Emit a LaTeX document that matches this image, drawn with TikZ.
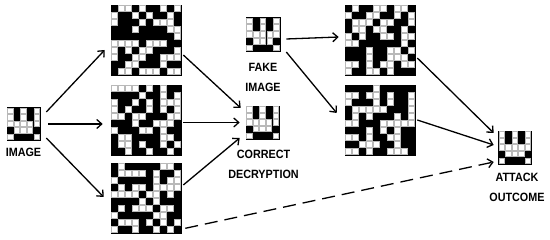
\documentclass[tikz,border=0pt]{standalone}
\usepackage{fontspec}
\setmainfont{Liberation Sans}
\newfontfamily\lblfont[FakeStretch=0.9]{Liberation Sans}
\usetikzlibrary{arrows.meta,positioning}

% white cells of a pixel grid, row by row
\newcommand{\pixcells}[3]{%
  \foreach \row [count=\ri] in {#3}
    \foreach \c in \row
      \draw[cell] ([shift={({(\c-1)*#2+0.6},{-(\ri-1)*#2-0.6})}]#1.north west)
        rectangle ++({#2-1.2},{-(#2-1.2)});
}

\begin{document}
\begin{tikzpicture}[
  x=1pt, y=1pt,
  pixgrid/.style={draw, fill=black, inner sep=0pt, minimum size=#1, line width=0.6pt},
  cell/.style={fill=white, draw=gray!55, line width=0.35pt},
  lbl/.style={font=\lblfont\bfseries\fontsize{12}{20}\selectfont, align=center, inner sep=0pt},
  arr/.style={-{Straight Barb[length=5pt,width=9pt]}, line width=1.3pt},
  dasharr/.style={arr, dash pattern=on 13pt off 7pt}
]
\useasboundingbox (0,0) rectangle (550,240);

% grids
\node[pixgrid=33pt] (img)  at (23.5,116) {};
\node[pixgrid=70pt] (g1)   at (146,200) {};
\node[pixgrid=70pt] (g2)   at (146,120) {};
\node[pixgrid=70pt] (g3)   at (146,42) {};
\node[pixgrid=34pt] (fake) at (263,205.5) {};
\node[pixgrid=33pt] (corr) at (262.5,117.5) {};
\node[pixgrid=70pt] (g4)   at (380,200) {};
\node[pixgrid=70pt] (g5)   at (380,120) {};
\node[pixgrid=33pt] (atk)  at (515,92.5) {};

\pixcells{img}{6.6}{{1,3,5},{1,3,5},{1,2,3,4,5},{2,3,4},{1,5}}
\pixcells{fake}{6.8}{{1,3,5},{1,3,5},{1,2,3,4,5},{2,3,4},{1,5}}
\pixcells{corr}{6.6}{{1,3,5},{1,3,5},{1,2,3,4,5},{2,3,4},{1,5}}
\pixcells{atk}{6.6}{{1,3,5},{1,3,5},{1,2,3,4,5},{2,3,4},{1,5}}

\pixcells{g1}{7}{{2,3,5,8,10},{1,4,6,9},{1,5,7,8,9},{4,9,10},{10},
  {1,2,3,4,6,7,8},{1,3,5,6,10},{1,4,5,8,9,10},{3,4,8},{2,3,5,6,7,9,10}}
\pixcells{g2}{7}{{1,2,3,4,6,8},{5,8,10},{1,4,6,8,9,10},{1,3,6,8,10},{1,2,4,5,9,10},
  {4,7,8,9},{1,5,6,8},{2,3,8,9},{2,3,5,8,10},{3,6,9}}
\pixcells{g3}{7}{{2,8,9},{2,3,4,5,7,10},{1,7,9,10},{2,4,5,7,8,9,10},{1,2,3,4,6,7,9},
  {5,7},{2,4,5,6,8,9},{1,7,8},{2,3,4,6,8,10},{1,4,7,9}}
\pixcells{g4}{7}{{2,5,6,8,9},{1,4,5,8,10},{2,3,4,6,7,10},{2,3,5,6,9},{1,3,6,7,9,10},
  {1,2,9},{4,7,8,10},{4,7,8,9},{1,2,4,6,7,9,10},{1,4,5,7}}
\pixcells{g5}{7}{{5},{1,2,4,5,7,10},{1,5,7,10},{2,3,4,5,6,10},{2,4,8,10},
  {1,2,6,7,8,9,10},{4,6,8},{1,2,4,7,8},{3,4,5,8},{1,2,4,7,8,9}}

% labels
\node[lbl, below=7.5pt of img]  {IMAGE};
\node[lbl, below=11pt of fake] {FAKE\\IMAGE};
\node[lbl, below=11pt of corr, xshift=1pt] {CORRECT\\DECRYPTION};
\node[lbl, below=8.5pt of atk, xshift=2pt]  {ATTACK\\OUTCOME};

% connectors
\draw[arr] ([shift={(6,12)}]img.east) -- ([shift={(-6,-10)}]g1.west);
\draw[arr] ([xshift=8pt]img.east) -- ([xshift=-8pt]img.east -| g2.west);
\draw[arr] ([shift={(6,-14)}]img.east) -- ([shift={(-7,1)}]g3.west);
\draw[arr] ([shift={(2,-15)}]g1.east) -- ([shift={(-5,14.5)}]corr.west);
\draw[arr] ([xshift=2pt]corr.west -| g2.east) -- ([xshift=-6pt]corr.west);
\draw[arr] ([shift={(2,13)}]g3.east) -- ([shift={(-6,-15.5)}]corr.west);
\draw[arr] ([shift={(6,-4.5)}]fake.east) -- ([shift={(-6,3)}]g4.west);
\draw[arr] ([shift={(6,-17.5)}]fake.east) -- ([shift={(-8,7)}]g5.west);
\draw[arr] ([shift={(2,-18)}]g4.east) -- ([shift={(-4.5,14.5)}]atk.west);
\draw[arr] ([xshift=2pt]g5.east) -- ([shift={(-4.5,2.5)}]atk.west);
\draw[dasharr] ([shift={(4,5)}]g3.south east) -- ([shift={(-4.5,-14.5)}]atk.west);
\end{tikzpicture}
\end{document}
